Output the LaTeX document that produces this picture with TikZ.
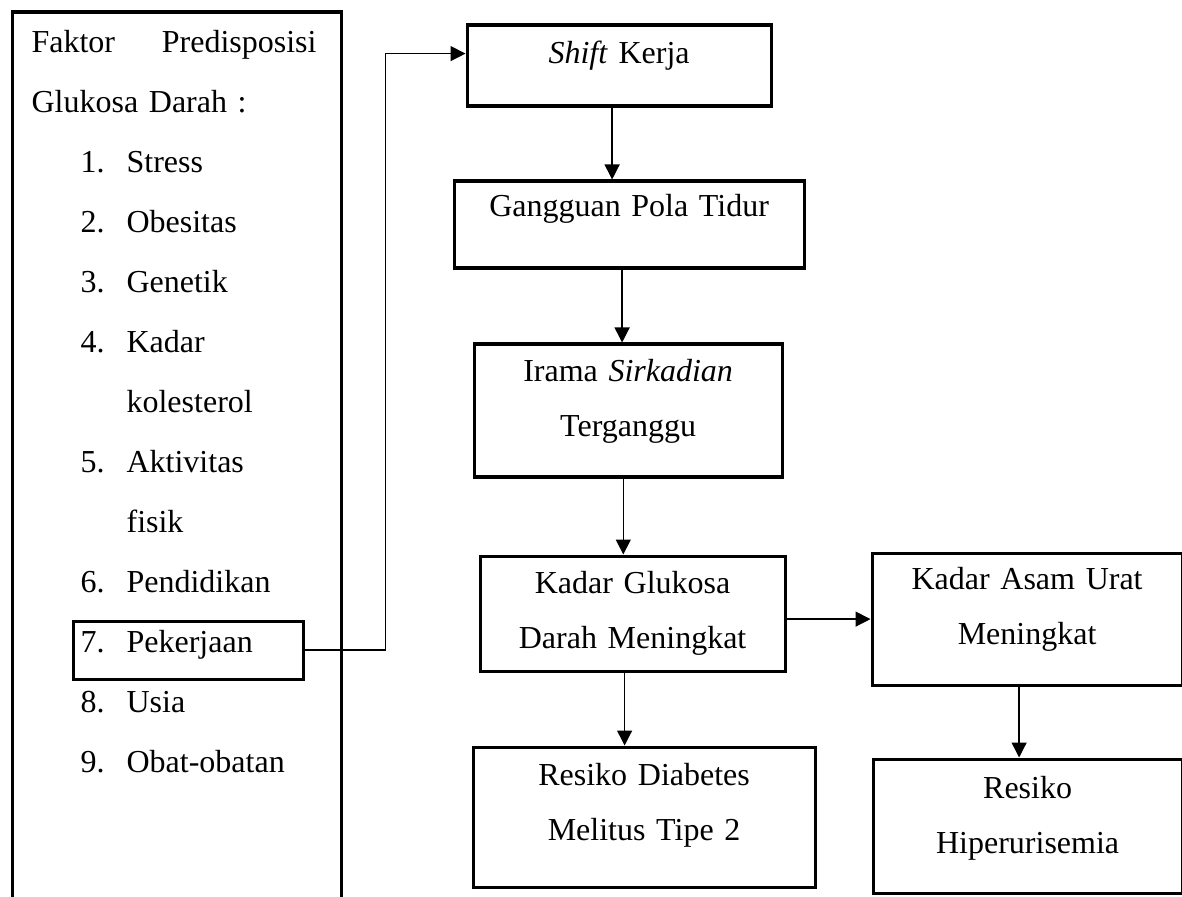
\documentclass[tikz,border=0pt]{standalone}
\usepackage{fontspec}
\setmainfont{Liberation Serif}
\usepackage{tikz}
\usetikzlibrary{arrows.meta,positioning}

\newcommand{\butir}[2]{\hspace*{24.5pt}\makebox[23pt][l]{#1}#2}
\newcommand{\lanjut}[1]{\hspace*{47.5pt}#1}

\begin{document}
\begin{tikzpicture}[
  x=0.5pt,y=-0.5pt,
  box/.style={draw,line width=1.6pt,inner sep=0pt,anchor=north west,
              align=center,font=\fontsize{16}{27.5}\selectfont},
  boxdim/.style n args={3}{text width=#1,text height=#2,text depth=#3},
  arr/.style={-{Triangle[length=7.5pt,width=7.5pt]},line width=0.65pt}
]
\useasboundingbox (0,0) rectangle (1182,897);
% faktor predisposisi
\node[box,align=left,inner xsep=9.5pt,font=\fontsize{16}{30}\selectfont,
      boxdim={145.5pt}{20pt}{440pt}] (faktor) at (11,10.5)
  {\makebox[142.5pt][s]{Faktor\hfill Predisposisi}\\
   Glukosa Darah :\\
   \butir{1.}{Stress}\\
   \butir{2.}{Obesitas}\\
   \butir{3.}{Genetik}\\
   \butir{4.}{Kadar}\\
   \lanjut{kolesterol}\\
   \butir{5.}{Aktivitas}\\
   \lanjut{fisik}\\
   \butir{6.}{Pendidikan}\\
   \mbox{}\\
   \butir{8.}{Usia}\\
   \butir{9.}{Obat-obatan}};
\node[box,align=left,inner xsep=3.75pt,
      boxdim={107.5pt}{15.5pt}{13.5pt}] (pekerjaan) at (71.5,619.5)
  {\makebox[23pt][l]{7.}Pekerjaan};
% alur tengah
\node[box,boxdim={152pt}{19.25pt}{21.25pt}] (shift) at (465.5,23.5)
  {\textit{Shift} Kerja};
\node[box,boxdim={175pt}{17.75pt}{25.75pt}] (gangguan) at (452.5,179.5)
  {Gangguan Pola Tidur};
\node[box,boxdim={154pt}{18.75pt}{47.75pt}] (irama) at (472.5,342.5)
  {Irama \textit{Sirkadian}\\Terganggu};
\node[box,boxdim={152.5pt}{18.75pt}{38.75pt}] (glukosa) at (478.5,554.5)
  {Kadar Glukosa\\Darah Meningkat};
\node[box,boxdim={171pt}{19.25pt}{50.75pt}] (diabetes) at (471.5,745.5)
  {Resiko Diabetes\\Melitus Tipe 2};
% alur kanan
\node[box,boxdim={155pt}{18.25pt}{47.75pt}] (asamurat) at (870.5,551.5)
  {Kadar Asam Urat\\Meningkat};
\node[box,boxdim={154.5pt}{19.75pt}{47.25pt}] (hiper) at (871.5,757.5)
  {Resiko\\Hiperurisemia};

\draw[arr] (pekerjaan.east) -- ++(80.5,0) |- ([yshift=6pt]shift.west);
\draw[arr] ([xshift=-3.5pt]shift.south) -- ([xshift=-3.5pt]shift.south |- gangguan.north);
\draw[arr] ([xshift=-3.5pt]gangguan.south) -- ([xshift=-3.5pt]gangguan.south |- irama.north);
\draw[arr] ([xshift=-2.4pt]irama.south) -- ([xshift=-2.4pt]irama.south |- glukosa.north);
\draw[arr] ([xshift=-4pt]glukosa.south) -- ([xshift=-4pt]glukosa.south |- diabetes.north);
\draw[arr] (glukosa.east |- asamurat.west) -- (asamurat.west);
\draw[arr] ([xshift=-4pt]asamurat.south) -- ([xshift=-4pt]asamurat.south |- hiper.north);
\end{tikzpicture}
\end{document}
